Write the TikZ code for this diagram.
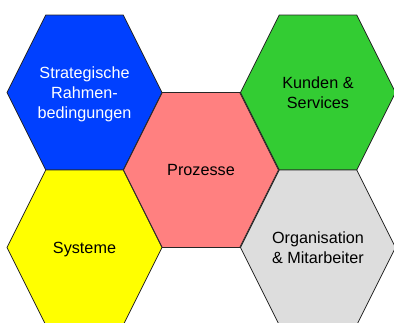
\documentclass[tikz,border=0pt]{standalone}
\usepackage{fontspec}
\setmainfont{Liberation Sans}
\usepackage{tikz}
\tikzset{>=latex}
\definecolor{hexblue}{RGB}{0,64,255}
\definecolor{hexyellow}{RGB}{255,255,0}
\definecolor{hexpink}{RGB}{255,128,128}
\definecolor{hexgreen}{RGB}{51,204,51}
\definecolor{hexgray}{RGB}{221,221,221}
\tikzset{
    hexcell/.style={draw=black!85, line width=0.8pt},
    hexlabel/.style={align=center, text depth=0pt, font=\fontsize{16.2}{20.3}\selectfont},
}

\begin{document}
\begin{tikzpicture}[x=1pt, y=-1pt]
    \clip (0,0) rectangle (394,322); % picture frame
    
    \foreach \cx/\cy/\col/\txt/\name/\lab in {
        84.5/92.5/hexblue/white/strategie/{Strategische\\Rahmen-\\bedingungen},
        84.5/247.5/hexyellow/black/systeme/{Systeme},
        201/170/hexpink/black/prozesse/{Prozesse},
        318/92.5/hexgreen/black/kunden/{Kunden \&\\Services},
        318/247.5/hexgray/black/organisation/{Organisation\\\& Mitarbeiter}} {
        \filldraw[hexcell, fill=\col] (\cx-77.5,\cy) -- (\cx-38.75,\cy-77.5) -- (\cx+38.75,\cy-77.5)
            -- (\cx+77.5,\cy) -- (\cx+38.75,\cy+77.5) -- (\cx-38.75,\cy+77.5) -- cycle;
        \node[hexlabel, text=\txt] (\name) at (\cx,\cy) {\lab}; % label of the cell
    }
\end{tikzpicture}
\end{document}
